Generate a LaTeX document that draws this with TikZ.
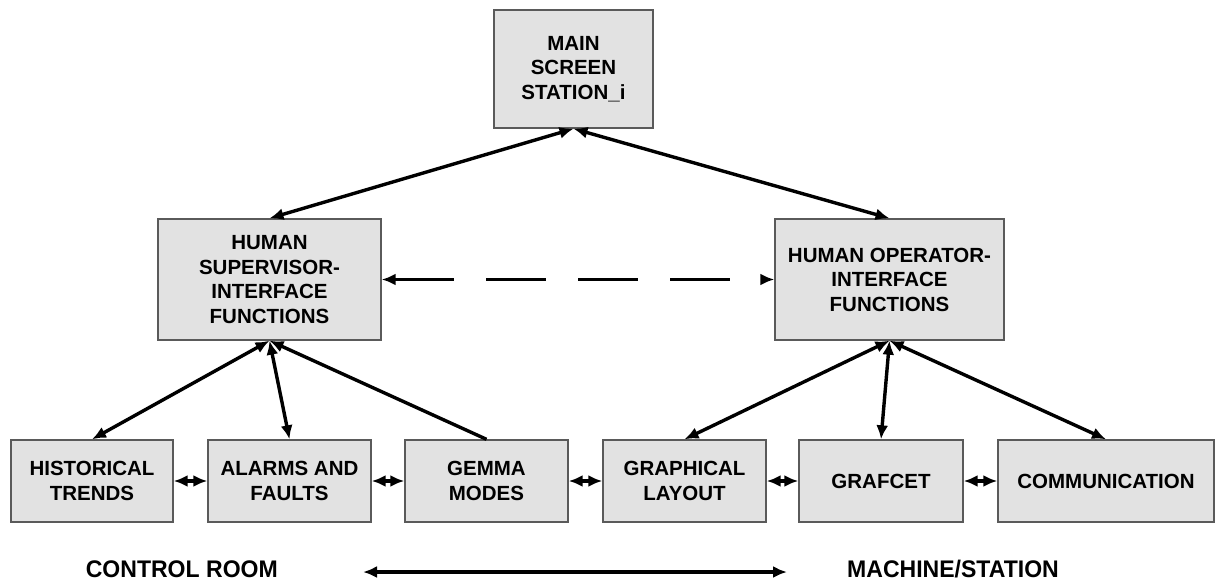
\documentclass[tikz,border=0pt]{standalone}
\usepackage{fontspec}
\setmainfont{Liberation Sans}
\usetikzlibrary{arrows.meta}
\definecolor{boxfill}{HTML}{E2E2E2}
\definecolor{boxline}{HTML}{5A5A5A}
\tikzset{
  box/.style={draw=boxline, fill=boxfill, line width=1.4pt, align=center,
    font=\fontsize{20.5}{24.5}\selectfont\bfseries, inner sep=0pt},
  tipA/.tip={Latex[length=14pt,width=12pt]},
  conn/.style={line width=3.4pt, tipA-tipA},
  connL/.style={line width=3.4pt, tipA-},
  lab/.style={font=\fontsize{24}{28}\selectfont\bfseries, inner sep=0pt, xscale=0.96}
}
\begin{document}
\begin{tikzpicture}[x=1pt,y=-1pt]
\useasboundingbox (0,0) rectangle (1217,582);
% top
\node[box, minimum width=159pt, minimum height=118pt] (main) at (573.5,69) {MAIN\\SCREEN\\STATION\_i};
% middle
\node[box, minimum width=223pt, minimum height=121pt] (sup) at (269.5,279.5) {HUMAN\\SUPERVISOR-\\INTERFACE\\FUNCTIONS};
\node[box, minimum width=229pt, minimum height=121pt] (op) at (889.5,279.5) {HUMAN OPERATOR-\\INTERFACE\\FUNCTIONS};
% bottom row
\node[box, minimum width=162pt, minimum height=82pt] (hist) at (92,481) {HISTORICAL\\TRENDS};
\node[box, minimum width=163pt, minimum height=82pt] (alarm) at (289.5,481) {ALARMS AND\\FAULTS};
\node[box, minimum width=163pt, minimum height=82pt] (gemma) at (486.5,481) {GEMMA\\MODES};
\node[box, minimum width=163pt, minimum height=82pt] (graph) at (684.5,481) {GRAPHICAL\\LAYOUT};
\node[box, minimum width=164pt, minimum height=82pt] (grafcet) at (881,481) {GRAFCET};
\node[box, minimum width=216pt, minimum height=82pt] (comm) at (1106,481) {COMMUNICATION};
% labels
\node[lab, anchor=east] (ctrl) at (278,569) {CONTROL ROOM};
\node[lab, anchor=west] (mach) at (847,569) {MACHINE/STATION};
\coordinate (al) at (363,572);
\coordinate (ar) at (787,572);
% connectors
\draw[conn] (main.south) -- (sup.north);
\draw[conn] (main.south) -- (op.north);
\draw[conn] (sup.south) -- (hist.north);
\draw[conn] (sup.south) -- (alarm.north);
\draw[connL] (sup.south) -- (gemma.north);
\draw[conn] (op.south) -- (graph.north);
\draw[conn] (op.south) -- (grafcet.north);
\draw[conn] (op.south) -- (comm.north);
\draw[conn, dash pattern=on 60pt off 32pt] (sup.east) -- (op.west);
\draw[conn] (hist.east) -- (alarm.west);
\draw[conn] (alarm.east) -- (gemma.west);
\draw[conn] (gemma.east) -- (graph.west);
\draw[conn] (graph.east) -- (grafcet.west);
\draw[conn] (grafcet.east) -- (comm.west);
\draw[conn] (al) -- (ar);
\end{tikzpicture}
\end{document}
